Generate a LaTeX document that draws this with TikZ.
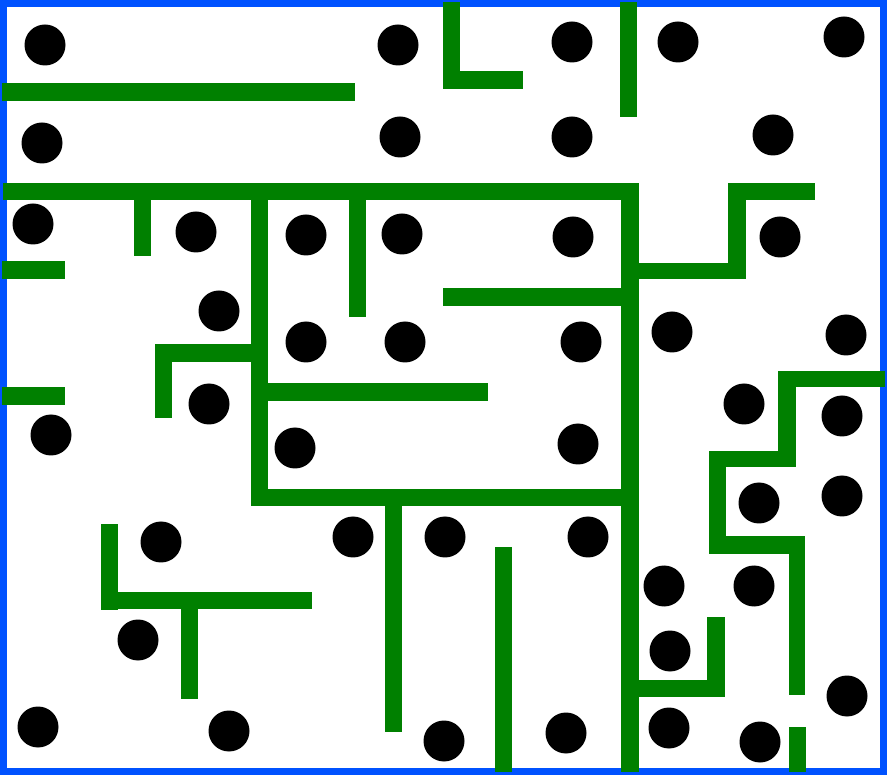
\documentclass[tikz,border=0pt]{standalone}
\usepackage{xcolor}
\usepackage{tikz}
\definecolor{mazegreen}{RGB}{0,128,0}
\definecolor{mazeblue}{RGB}{0,82,255}

\begin{document}
\begin{tikzpicture}[
    x=1pt, y=-1pt,
    wall/.style={fill=mazegreen},
    frame/.style={draw=mazeblue, line width=7pt},
    coin/.style={fill=black}
]
    \useasboundingbox (0,0) rectangle (887,775);

    % Outer frame
    \draw[frame] (3.5,3.5) rectangle (883.5,771.5);

    % Walls
    \foreach \xa/\ya/\xb/\yb in {
        2/83/355/101, 443/2/460/89, 460/71/523/89, 620/2/637/117,
        3/183/621/200, 134/200/151/256, 251/200/268/506, 349/200/366/317,
        621/183/639/772, 728/183/815/200, 728/200/746/279, 639/263/746/279,
        2/261/65/279, 2/387/65/405, 155/344/251/362, 155/362/172/418,
        443/288/621/306, 268/383/488/401, 268/489/621/506, 385/506/402/732,
        495/547/512/772, 101/524/118/610, 118/592/312/609, 181/609/198/699,
        778/371/885/387, 778/387/796/451, 709/451/796/467, 709/467/726/554,
        726/536/789/554, 789/536/805/695, 707/617/725/680, 639/680/725/697,
        789/727/806/772}
        \fill[wall] (\xa,\ya) rectangle (\xb,\yb);

    % Coins
    \foreach \cx/\cy in {
        45/45, 398/45, 572/42, 678/42, 844/37,
        42/143, 400/137, 572/137, 773/135,
        33/224, 196/232, 306/235, 402/234, 573/237, 780/237,
        219/311, 306/342, 405/342, 581/342, 672/332, 846/335,
        209/404, 51/435, 295/448, 578/444, 744/404, 842/416,
        759/503, 842/496,
        161/542, 353/537, 445/537, 588/537, 664/586, 754/586,
        138/640, 670/651,
        38/727, 229/731, 444/741, 566/733, 669/728, 760/742, 847/696}
        \fill[coin] (\cx,\cy) circle (20.5);
\end{tikzpicture}
\end{document}
